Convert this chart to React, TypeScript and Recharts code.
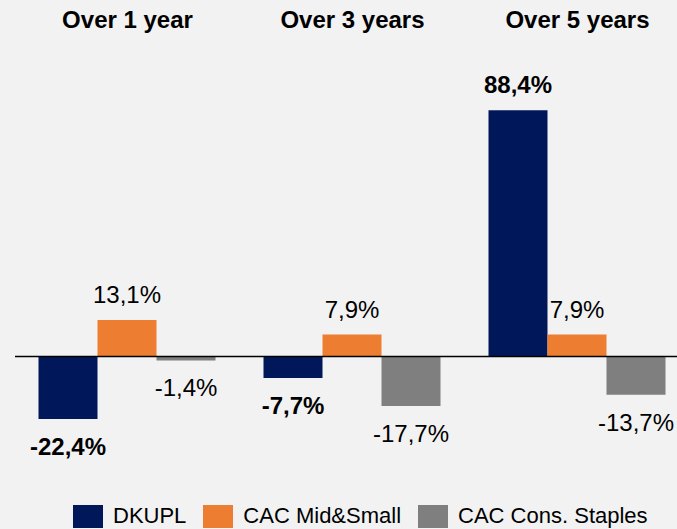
import { BarChart, Bar, XAxis, YAxis, Legend, LabelList, ReferenceLine } from "recharts";

const periods = ["Over 1 year", "Over 3 years", "Over 5 years"];
const dkupl = [-22.4, -7.7, 88.4];
const cacMidSmall = [13.1, 7.9, 7.9];
const cacStaples = [-1.4, -17.7, -13.7];

const seriesNames = ["DKUPL", "CAC Mid&Small", "CAC Cons. Staples"];
const seriesColors = ["#00175a", "#ed7d31", "#7f7f7f"];

const data = periods.map((period, i) => ({
  period,
  dkupl: dkupl[i],
  midSmall: cacMidSmall[i],
  staples: cacStaples[i],
}));

const FONT = '"Liberation Sans", Arial, sans-serif';

const fmt = (v: number) => `${v.toFixed(1).replace(".", ",")}%`;

function PeriodTick(props: any) {
  const { x, payload } = props;
  return (
    <text x={x} y={28} textAnchor="middle" fontFamily={FONT} fontSize={24} fontWeight="bold" fill="#000">
      {payload.value}
    </text>
  );
}

function makeValueLabel(bold: boolean) {
  return (props: any) => {
    const { x, y, width, height, value } = props;
    const top = Math.min(y, y + height);
    const bottom = Math.max(y, y + height);
    const ty = value >= 0 ? top - 17 : bottom + 36;
    return (
      <text
        x={x + width / 2}
        y={ty}
        textAnchor="middle"
        fontFamily={FONT}
        fontSize={24}
        fontWeight={bold ? "bold" : "normal"}
        fill="#000"
      >
        {fmt(value)}
      </text>
    );
  };
}

function LegendContent(props: any) {
  const items = [...(props.payload || [])].sort(
    (a: any, b: any) => seriesNames.indexOf(a.value) - seriesNames.indexOf(b.value)
  );
  return (
    <div style={{ display: "flex", alignItems: "center", height: 26, paddingLeft: 73 }}>
      {items.map((item: any) => (
        <div key={item.value} style={{ display: "flex", alignItems: "center", marginRight: 17 }}>
          <span style={{ width: 30, height: 23, background: item.color, display: "inline-block", marginRight: 10 }} />
          <span style={{ fontFamily: FONT, fontSize: 22, color: "#000" }}>{item.value}</span>
        </div>
      ))}
    </div>
  );
}

export default function App() {
  return (
    <div
      style={{
        position: "absolute",
        left: 0,
        top: 0,
        width: 677,
        height: 529,
        overflow: "hidden",
        background: "#f2f2f2",
      }}
    >
      <BarChart
        width={690}
        height={529}
        data={data}
        margin={{ top: 0, right: 0, left: 15, bottom: 35 }}
        barGap={0}
        barCategoryGap={23.5}
      >
        <XAxis
          dataKey="period"
          orientation="top"
          height={78}
          axisLine={false}
          tickLine={false}
          tick={<PeriodTick />}
          interval={0}
        />
        <YAxis hide domain={[-40, 100]} />
        <Legend
          verticalAlign="bottom"
          content={<LegendContent />}
          wrapperStyle={{ left: 0, bottom: 0, width: 677 }}
        />
        <Bar dataKey="dkupl" name={seriesNames[0]} fill={seriesColors[0]} isAnimationActive={false}>
          <LabelList dataKey="dkupl" content={makeValueLabel(true)} />
        </Bar>
        <Bar dataKey="midSmall" name={seriesNames[1]} fill={seriesColors[1]} isAnimationActive={false}>
          <LabelList dataKey="midSmall" content={makeValueLabel(false)} />
        </Bar>
        <Bar dataKey="staples" name={seriesNames[2]} fill={seriesColors[2]} isAnimationActive={false}>
          <LabelList dataKey="staples" content={makeValueLabel(false)} />
        </Bar>
        <ReferenceLine y={0} stroke="#000" strokeWidth={1.5} />
      </BarChart>
    </div>
  );
}
